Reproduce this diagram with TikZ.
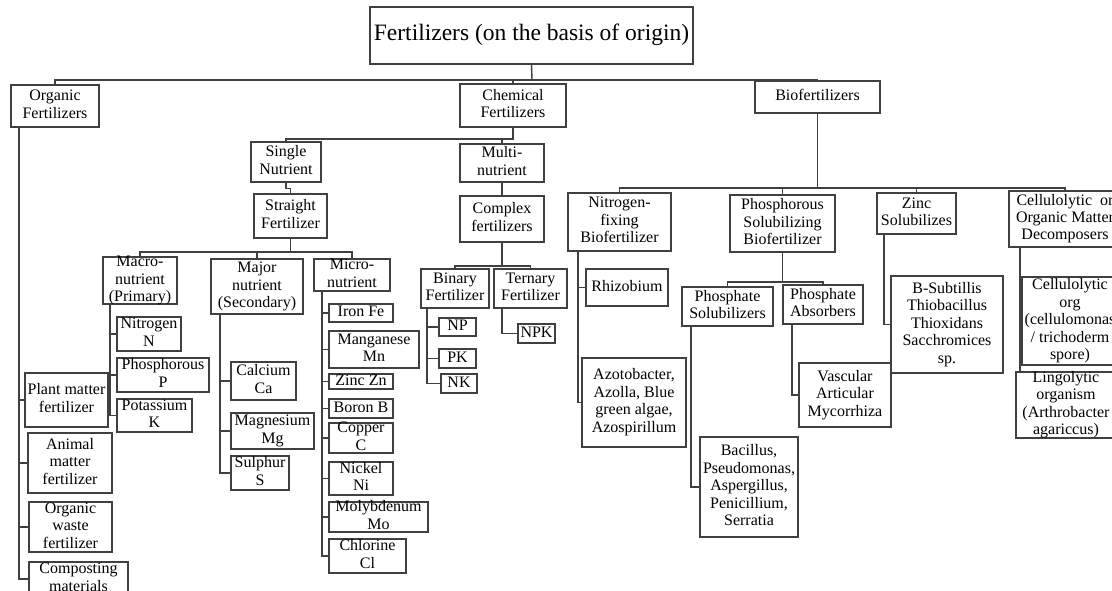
\documentclass[tikz,border=0pt]{standalone}
\usepackage{fontspec}
\setmainfont{Liberation Serif}
\usepackage{tikz}
% text centred on the node, allowed to run over the frame
\newcommand{\boxtext}[1]{\makebox[0pt]{\vbox to 0pt{\vss\hbox{\begin{tabular}{@{}c@{}}#1\end{tabular}}\vss}}}

\begin{document}
\begin{tikzpicture}[x=1pt,y=-1pt,
    box/.style={draw=black!75,line width=1.4pt,inner sep=0pt,rectangle,
      font=\fontsize{16}{17.5}\selectfont},
    link/.style={draw=black!75,line width=1.4pt}]
  \useasboundingbox (0,0) rectangle (1112,591);
  \clip (0,0) rectangle (1112,591);
  \fill[white] (0,0) rectangle (1112,591);

  % level 0 and 1
  \node[box,minimum width=323,minimum height=57,font=\fontsize{23.5}{26}\selectfont] (top) at (531.5,35.5) {\boxtext{Fertilizers (on the basis of origin)}};
  \node[box,minimum width=88,minimum height=42] (org) at (55,106) {\boxtext{Organic\\Fertilizers}};
  \node[box,minimum width=106,minimum height=43] (chem) at (513,105.5) {\boxtext{Chemical\\Fertilizers}};
  \node[box,minimum width=125,minimum height=32] (bio) at (817.5,97) {\boxtext{Biofertilizers}};

  % organic
  \node[box,minimum width=83,minimum height=54] (plt) at (66.5,400) {\boxtext{Plant matter\\fertilizer}};
  \node[box,minimum width=84,minimum height=60] (ani) at (70,463) {\boxtext{Animal\\matter\\fertilizer}};
  \node[box,minimum width=83,minimum height=50] (wst) at (70.5,527) {\boxtext{Organic\\waste\\fertilizer}};
  \node[box,minimum width=99,minimum height=34] (cmp) at (78.5,579) {\boxtext{Composting\\materials}};

  % chemical
  \node[box,minimum width=70,minimum height=40] (sing) at (286,162) {\boxtext{Single\\Nutrient}};
  \node[box,minimum width=84,minimum height=38] (mult) at (502,163) {\boxtext{Multi-\\nutrient}};
  \node[box,minimum width=73,minimum height=44] (str) at (290.5,216) {\boxtext{Straight\\Fertilizer}};
  \node[box,minimum width=84,minimum height=46] (cpx) at (502,219) {\boxtext{Complex\\fertilizers}};
  \node[box,minimum width=74,minimum height=47] (mac) at (140,280.5) {\boxtext{Macro-\\nutrient\\(Primary)}};
  \node[box,minimum width=92,minimum height=55] (maj) at (257,286.5) {\boxtext{Major\\nutrient\\(Secondary)}};
  \node[box,minimum width=76,minimum height=32] (mic) at (352,275) {\boxtext{Micro-\\nutrient}};

  \node[box,minimum width=64,minimum height=34] (nit) at (149,334) {\boxtext{Nitrogen\\N}};
  \node[box,minimum width=92,minimum height=34] (pho) at (163,375) {\boxtext{Phosphorous\\P}};
  \node[box,minimum width=75,minimum height=33] (pot) at (154.5,415.5) {\boxtext{Potassium\\K}};

  \node[box,minimum width=65,minimum height=38] (cal) at (263.5,381) {\boxtext{Calcium\\Ca}};
  \node[box,minimum width=83,minimum height=36] (mag) at (272.5,431) {\boxtext{Magnesium\\Mg}};
  \node[box,minimum width=58,minimum height=34] (sul) at (260,473) {\boxtext{Sulphur\\S}};

  \node[box,minimum width=64,minimum height=18] (iro) at (361,313) {\boxtext{Iron Fe}};
  \node[box,minimum width=90,minimum height=37] (man) at (374,349.5) {\boxtext{Manganese\\Mn}};
  \node[box,minimum width=64,minimum height=15] (zin) at (361,381.5) {\boxtext{Zinc Zn}};
  \node[box,minimum width=64,minimum height=19] (bor) at (361,408.5) {\boxtext{Boron B}};
  \node[box,minimum width=64,minimum height=30] (cop) at (361,438) {\boxtext{Copper\\C}};
  \node[box,minimum width=64,minimum height=33] (nic) at (361,478.5) {\boxtext{Nickel\\Ni}};
  \node[box,minimum width=99,minimum height=30] (mol) at (378.5,517) {\boxtext{Molybdenum\\Mo}};
  \node[box,minimum width=77,minimum height=34] (chl) at (367.5,556) {\boxtext{Chlorine\\Cl}};

  \node[box,minimum width=68,minimum height=39] (bin) at (455,288.5) {\boxtext{Binary\\Fertilizer}};
  \node[box,minimum width=73,minimum height=39] (ter) at (530.5,288.5) {\boxtext{Ternary\\Fertilizer}};
  \node[box,minimum width=37,minimum height=18] (np) at (457.5,327) {\boxtext{NP}};
  \node[box,minimum width=37,minimum height=19] (pk) at (457.5,358.5) {\boxtext{PK}};
  \node[box,minimum width=36,minimum height=19] (nk) at (459,383.5) {\boxtext{NK}};
  \node[box,minimum width=37,minimum height=19] (npk) at (536.5,333.5) {\boxtext{NPK}};

  % biofertilizers
  \node[box,minimum width=103,minimum height=58] (nfb) at (619.5,222) {\boxtext{Nitrogen-\\fixing\\Biofertilizer}};
  \node[box,minimum width=105,minimum height=57] (psb) at (782.5,223.5) {\boxtext{Phosphorous\\Solubilizing\\Biofertilizer}};
  \node[box,minimum width=79,minimum height=41] (znc) at (916.5,213.5) {\boxtext{Zinc\\Solubilizes}};
  \node[box,minimum width=112,minimum height=56] (dec) at (1065,219) {\boxtext{Cellulolytic\ \ or\\Organic Matter\\Decomposers}};

  \node[box,minimum width=82,minimum height=37] (rhz) at (627,287.5) {\boxtext{Rhizobium}};
  \node[box,minimum width=104,minimum height=89] (azo) at (634,402.5) {\boxtext{Azotobacter,\\Azolla, Blue\\green algae,\\Azospirillum}};
  \node[box,minimum width=91,minimum height=39] (psl) at (727.5,306.5) {\boxtext{Phosphate\\Solubilizers}};
  \node[box,minimum width=80,minimum height=39] (pab) at (823,304.5) {\boxtext{Phosphate\\Absorbers}};
  \node[box,minimum width=98,minimum height=100] (bac) at (749,487) {\boxtext{Bacillus,\\Pseudomonas,\\Aspergillus,\\Penicillium,\\Serratia}};
  \node[box,minimum width=92,minimum height=64] (vam) at (845,395) {\boxtext{Vascular\\Articular\\Mycorrhiza}};
  \node[box,minimum width=112,minimum height=97] (bsu) at (947,324.5) {\boxtext{B-Subtillis\\Thiobacillus\\Thioxidans\\Sacchromices\\sp.}};
  \node[box,minimum width=96,minimum height=88] (clo) at (1070,321) {\boxtext{Cellulolytic\\org\\(cellulomonas\\/ trichoderm\\spore)}};
  \node[box,minimum width=100,minimum height=66] (lig) at (1066,405) {\boxtext{Lingolytic\\organism\\(Arthrobacter\\agariccus)}};

  % connectors
  \coordinate (busA) at (532,80);
  \draw[link] (top.south) -- (busA);
  \draw[link] (org.north) |- (busA) -| (bio.north);
  \draw[link] (chem.north) -- (chem.north |- busA);

  \draw[link] ([xshift=-36pt]org.south) |- (plt.west);
  \draw[link] ([xshift=-36pt]org.south) |- (ani.west);
  \draw[link] ([xshift=-36pt]org.south) |- (wst.west);
  \draw[link] ([xshift=-36pt]org.south) |- (cmp.west);

  \coordinate (busC) at (513,139);
  \draw[link] (chem.south) -- (busC) -| (sing.north);
  \draw[link] (mult.north) -- (mult.north |- busC);
  \draw[link] (sing.south) -- ++(0,6) -| (str.north);
  \draw[link] (mult.south) -- (cpx.north);

  \coordinate (busS) at (290.5,252);
  \draw[link] (str.south) -- (busS);
  \draw[link] (mac.north) |- (busS) -| (mic.north);
  \draw[link] (maj.north) -- (maj.north |- busS);

  \draw[link] ([xshift=-30pt]mac.south) |- (nit.west);
  \draw[link] ([xshift=-30pt]mac.south) |- (pho.west);
  \draw[link] ([xshift=-30pt]mac.south) |- (pot.west);

  \draw[link] ([xshift=-37pt]maj.south) |- (cal.west);
  \draw[link] ([xshift=-37pt]maj.south) |- (mag.west);
  \draw[link] ([xshift=-37pt]maj.south) |- (sul.west);

  \draw[link] ([xshift=-30pt]mic.south) |- (iro.west);
  \draw[link] ([xshift=-30pt]mic.south) |- (man.west);
  \draw[link] ([xshift=-30pt]mic.south) |- (zin.west);
  \draw[link] ([xshift=-30pt]mic.south) |- (bor.west);
  \draw[link] ([xshift=-30pt]mic.south) |- (cop.west);
  \draw[link] ([xshift=-30pt]mic.south) |- (nic.west);
  \draw[link] ([xshift=-30pt]mic.south) |- (mol.west);
  \draw[link] ([xshift=-30pt]mic.south) |- (chl.west);

  \coordinate (busX) at (502,266);
  \draw[link] (cpx.south) -- (busX);
  \draw[link] (bin.north) |- (busX) -| (ter.north);
  \draw[link] ([xshift=-28pt]bin.south) |- (np.west);
  \draw[link] ([xshift=-28pt]bin.south) |- (pk.west);
  \draw[link] ([xshift=-28pt]bin.south) |- (nk.west);
  \draw[link] ([xshift=-28.5pt]ter.south) |- (npk.west);

  \coordinate (busB) at (817.5,188);
  \draw[link] (bio.south) -- (busB);
  \draw[link] (nfb.north) |- (busB) -| (dec.north);
  \draw[link] (psb.north) -- (psb.north |- busB);
  \draw[link] (znc.north) -- (znc.north |- busB);

  \draw[link] ([xshift=-41.5pt]nfb.south) |- (rhz.west);
  \draw[link] ([xshift=-41.5pt]nfb.south) |- (azo.west);

  \coordinate (busP) at (782.5,282);
  \draw[link] (psb.south) -- (busP);
  \draw[link] (psl.north) |- (busP) -| (pab.north);
  \draw[link] ([xshift=-36.5pt]psl.south) |- (bac.west);
  \draw[link] ([xshift=-31pt]pab.south) |- (vam.west);

  \draw[link] ([xshift=-32.5pt]znc.south) |- (bsu.west);

  \draw[link] ([xshift=-45pt]dec.south) |- (clo.west);
  \draw[link] ([xshift=-45pt]dec.south) -- ([xshift=-45pt]dec.south |- lig.north);
\end{tikzpicture}
\end{document}
